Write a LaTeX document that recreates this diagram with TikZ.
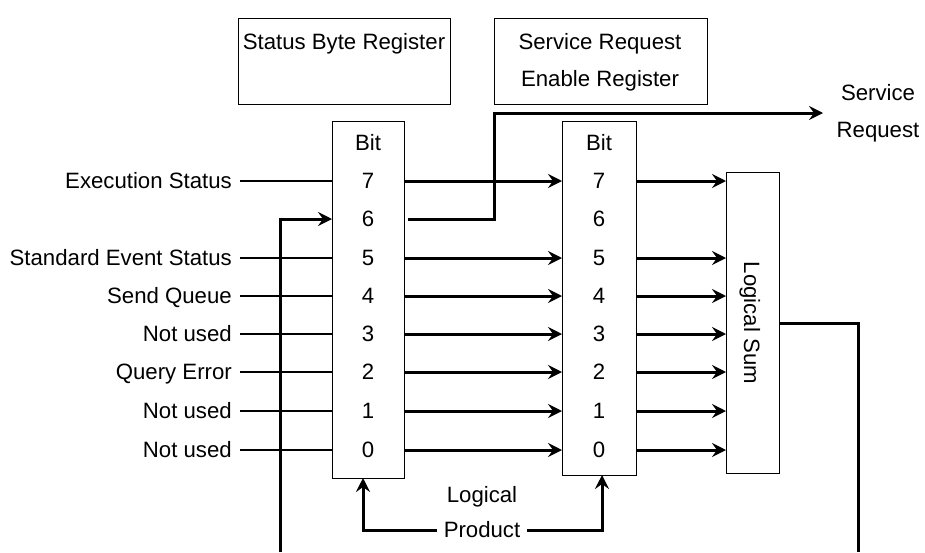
\documentclass[tikz,border=0pt]{standalone}
\usepackage{fontspec}
\setmainfont{Liberation Sans}
\usetikzlibrary{arrows.meta}

\tikzset{
  regbox/.style={draw, line width=1.4pt, rectangle, inner sep=0pt, anchor=north west},
  txt/.style={inner sep=0pt, anchor=center, text height=15.9pt, text depth=0pt},
  inlabel/.style={anchor=east, inner xsep=8pt, inner ysep=0pt, text height=15.9pt, text depth=0pt},
  feed/.style={line width=1.3pt},
  bus/.style={line width=3pt, -{Stealth[length=14pt,width=14pt,inset=5pt]}},
  wire/.style={line width=3pt},
}

\begin{document}
\begin{tikzpicture}[x=1pt,y=-1pt, font=\fontsize{22.2}{26}\selectfont]
\useasboundingbox (0,0) rectangle (925,552);

% register title boxes
\node[regbox, minimum width=212pt, minimum height=86pt] (sbrtitle) at (238,18) {};
\node[txt] (sbrtext) at (344,42) {Status Byte Register};
\node[regbox, minimum width=213pt, minimum height=86pt] (sretitle) at (494,18) {};
\node[txt] (setext1) at (600,42) {Service Request};
\node[txt] (setext2) at (600,79) {Enable Register};

% bit columns
\node[regbox, minimum width=72pt, minimum height=357pt] (sbr) at (332,121) {};
\node[regbox, minimum width=74pt, minimum height=354pt] (sre) at (562,121) {};
\node[regbox, minimum width=53pt, minimum height=301pt] (sum) at (726,172) {};
\node[txt, rotate=-90] (sumtext) at (752,323) {Logical Sum};

\node[txt] (lbit) at (368,143) {Bit};
\node[txt] (rbit) at (599,143) {Bit};
\foreach \b/\y in {7/181,6/219,5/258,4/296,3/334,2/372,1/411,0/450} {
  \node[txt] (l\b) at (368,\y) {\b};
  \node[txt] (r\b) at (599,\y) {\b};
}

% status inputs
\foreach \b/\t in {7/Execution Status,5/Standard Event Status,4/Send Queue,3/Not used,2/Query Error,1/Not used,0/Not used} {
  \coordinate (ie\b) at (240,0 |- l\b);
  \node[inlabel] (in\b) at (ie\b) {\t};
  \draw[feed] (in\b.east) -- (l\b -| sbr.west);
}

% logical product: status byte AND enable register
\foreach \b in {7,5,4,3,2,1,0} {
  \draw[bus] (l\b -| sbr.east) -- (l\b -| sre.west);
  \draw[bus] (r\b -| sre.east) -- (r\b -| sum.west);
}

% service request output from bit 6
\coordinate (srjog) at (494,219);
\coordinate (srend) at (823,113);
\draw[bus] ([xshift=3pt]l6 -| sbr.east) -- (srjog) |- (srend);
\node[txt] (srtext1) at (878,93) {Service};
\node[txt] (srtext2) at (878,130) {Request};

% logical sum fed back into bit 6
\coordinate (fbright) at (858,552);
\coordinate (fbleft) at (280,552);
\draw[wire] (sum.east |- sumtext) -| (fbright);
\draw[bus] (fbleft) |- (l6 -| sbr.west);

% logical product label
\node[txt] (lp1) at (482,495) {Logical};
\node[txt, inner xsep=7pt] (lp2) at (482,530) {Product};
\coordinate (lpl) at (363,478);
\coordinate (lpr) at (602,475);
\draw[bus] (lp2.west) -| (lpl);
\draw[bus] (lp2.east) -| (lpr);
\end{tikzpicture}
\end{document}
